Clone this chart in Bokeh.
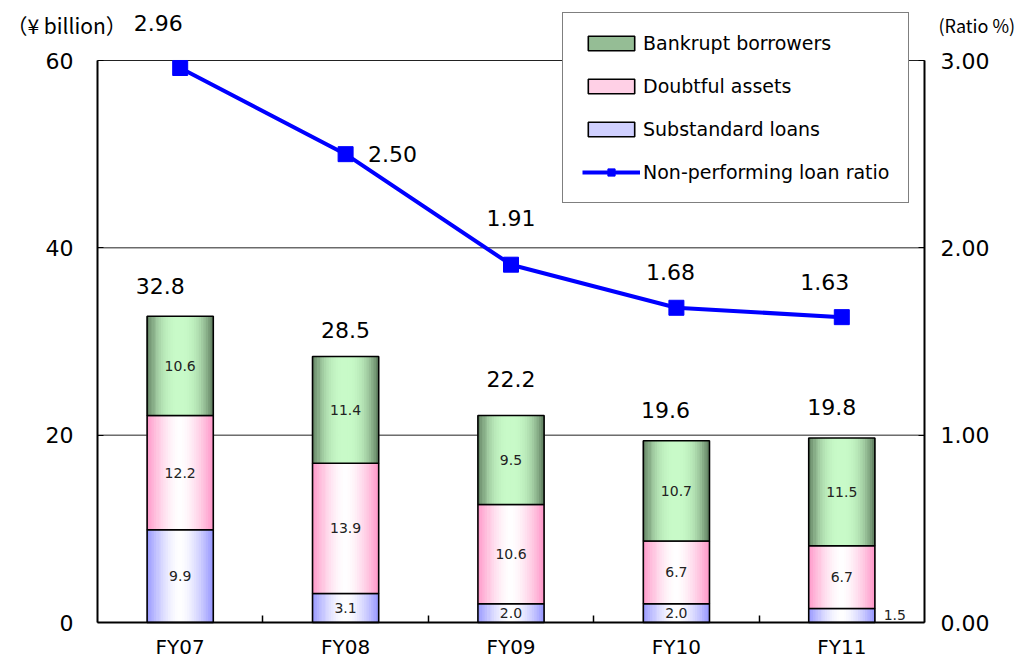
import numpy as np
from bokeh.plotting import figure
from bokeh.models import (Range1d, LinearAxis, FixedTicker, NumeralTickFormatter,
                          ColumnDataSource, LabelSet, Label, Legend, LegendItem)
from bokeh.core.properties import value
from bokeh.embed import file_html
from bokeh.resources import INLINE

# ---- data -------------------------------------------------------------
fiscal_years = ["FY07", "FY08", "FY09", "FY10", "FY11"]
substandard = [9.9, 3.1, 2.0, 2.0, 1.5]
doubtful = [12.2, 13.9, 10.6, 6.7, 6.7]
bankrupt = [10.6, 11.4, 9.5, 10.7, 11.5]
totals = [32.8, 28.5, 22.2, 19.6, 19.8]
npl_ratio = [2.96, 2.50, 1.91, 1.68, 1.63]
left_ticks = [0, 20, 40, 60]
right_ticks = [0, 1, 2, 3]

# label nudges in screen pixels (x right, y up)
total_dx = [-20, 0, 0, -11, -10]
total_dy = [30, 26, 36, 31, 31]
ratio_dx = [-22, 47, 0, -6, -17]
ratio_dy = [45, 0, 47, 36, 35]

# ---- page geometry (pixels) ------------------------------------------
W, H = 1020, 659
AX_LEFT, AX_RIGHT, AX_TOP, AX_BOTTOM = 97, 924, 60, 622
FONT = "DejaVu Sans"
BAR_W = 0.4
N_STRIPS = 28

n = len(fiscal_years)
y_max, r_max = left_ticks[-1], right_ticks[-1]
px_x = (AX_RIGHT - AX_LEFT) / n
px_y = (AX_BOTTOM - AX_TOP) / y_max
px_r = (AX_BOTTOM - AX_TOP) / r_max

# the frame spans the whole page; axes are pinned inside it
x_range = Range1d(-AX_LEFT / px_x, (W - AX_LEFT) / px_x)
y_range = Range1d(-(H - AX_BOTTOM) / px_y, AX_BOTTOM / px_y)
r_range = Range1d(-(H - AX_BOTTOM) / px_r, AX_BOTTOM / px_r)

xc = np.arange(n) + 0.5
sub = np.array(substandard)
dbt = np.array(doubtful)
bkr = np.array(bankrupt)
b0 = np.zeros_like(sub)
b1 = sub
b2 = sub + dbt
b3 = sub + dbt + bkr

p = figure(width=W, height=H, output_backend="svg", toolbar_location=None,
           x_range=x_range, y_range=y_range, x_axis_type=None, y_axis_type=None,
           min_border=0)
p.extra_y_ranges = {"ratio": r_range}
p.outline_line_color = None
p.background_fill_color = "white"
p.border_fill_color = "white"
p.grid.visible = False

# horizontal gridlines across the plotting area
p.segment(x0=0, x1=n, y0=left_ticks[1:], y1=left_ticks[1:], line_color="#222222",
          line_width=1)


def mix(c_edge, c_mid, t):
    return "#%02x%02x%02x" % tuple(int(round(m + (e - m) * t)) for e, m in zip(c_edge, c_mid))


def gradient_bar(bottom, top, c_edge, c_mid, power):
    """Stacked segment filled with a horizontal edge-centre-edge gradient.
    The strip closest to a mid tone is emitted first so that row 0 of the
    source doubles as the legend swatch colour."""
    sw = BAR_W / N_STRIPS
    ts = [abs(2 * (k + 0.5) / N_STRIPS - 1) ** power for k in range(N_STRIPS)]
    k_mid = int(np.argmin([abs(t - 0.45) for t in ts]))
    order = [k_mid] + [k for k in range(N_STRIPS) if k != k_mid]
    xs, bots, tops, cols = [], [], [], []
    for k in order:
        col = mix(c_edge, c_mid, ts[k])
        for i in range(n):
            xs.append(xc[i] - BAR_W / 2 + (k + 0.5) * sw)
            bots.append(bottom[i])
            tops.append(top[i])
            cols.append(col)
    src = ColumnDataSource(dict(x=xs, bottom=bots, top=tops, c=cols))
    fill = p.vbar(x="x", bottom="bottom", top="top", width=sw * 1.35, fill_color="c",
                  line_color=None, source=src)
    edge = p.vbar(x=xc, bottom=bottom, top=top, width=BAR_W, fill_color=None,
                  line_color="black", line_width=1.6)
    return fill, edge


g_sub = gradient_bar(b0, b1, (150, 150, 255), (255, 255, 255), 1.6)
g_dbt = gradient_bar(b1, b2, (255, 150, 200), (255, 255, 255), 1.6)
g_bkr = gradient_bar(b2, b3, (92, 122, 92), (200, 250, 200), 2.6)

# ratio line
line_r = p.line(xc, npl_ratio, y_range_name="ratio", line_color="#0000ff", line_width=4)
mark_r = p.scatter(xc, npl_ratio, y_range_name="ratio", marker="square", size=15,
                   fill_color="#0000ff", line_color="#0000ff")

# axes
ax_x = LinearAxis(fixed_location=0, bounds=(0, n),
                  ticker=FixedTicker(ticks=list(xc), minor_ticks=list(range(1, n))))
ax_x.major_label_overrides = {float(x): lab for x, lab in zip(xc, fiscal_years)}
ax_x.major_tick_line_color = None
ax_x.minor_tick_in = 7
ax_x.minor_tick_out = 0
ax_x.minor_tick_line_color = "black"
ax_x.minor_tick_line_width = 1.5
ax_x.axis_line_width = 2
ax_x.major_label_text_font = FONT
ax_x.major_label_text_font_size = "20px"
ax_x.major_label_text_color = "black"
ax_x.major_label_standoff = 6
p.add_layout(ax_x, "below")

ax_l = LinearAxis(fixed_location=0, bounds=(0, y_max), ticker=FixedTicker(ticks=left_ticks))
ax_l.major_tick_in = 6
ax_l.major_tick_out = 0
ax_l.minor_tick_line_color = None
ax_l.axis_line_width = 2
ax_l.major_label_text_font = FONT
ax_l.major_label_text_font_size = "22px"
ax_l.major_label_text_color = "black"
ax_l.major_label_standoff = 24
p.add_layout(ax_l, "left")

ax_r = LinearAxis(y_range_name="ratio", fixed_location=n, bounds=(0, r_max),
                  ticker=FixedTicker(ticks=right_ticks),
                  formatter=NumeralTickFormatter(format="0.00"))
ax_r.major_tick_in = 6
ax_r.major_tick_out = 0
ax_r.minor_tick_line_color = None
ax_r.axis_line_width = 2
ax_r.major_label_text_font = FONT
ax_r.major_label_text_font_size = "22px"
ax_r.major_label_text_color = "black"
ax_r.major_label_standoff = 16
p.add_layout(ax_r, "right")

# segment value labels
seg_x, seg_y, seg_t, seg_dx = [], [], [], []
for lo, hi, vals in ((b0, b1, substandard), (b1, b2, doubtful), (b2, b3, bankrupt)):
    for i, v in enumerate(vals):
        seg_x.append(xc[i])
        seg_y.append((lo[i] + hi[i]) / 2)
        seg_t.append(f"{v:.1f}")
        seg_dx.append(53 if (v < 2.0) else 0)
seg_src = ColumnDataSource(dict(x=seg_x, y=seg_y, t=seg_t, dx=seg_dx))
p.add_layout(LabelSet(x="x", y="y", text="t", x_offset="dx", source=seg_src,
                      text_align="center", text_baseline="middle",
                      text_font=value(FONT), text_font_size=value("14px"),
                      text_color="#222222"))

# totals above bars
tot_src = ColumnDataSource(dict(x=xc, y=b3, t=[f"{v:.1f}" for v in totals],
                                dx=total_dx, dy=total_dy))
p.add_layout(LabelSet(x="x", y="y", text="t", x_offset="dx", y_offset="dy", source=tot_src,
                      text_align="center", text_baseline="middle",
                      text_font=value(FONT), text_font_size=value("22px"),
                      text_color="black"))

# ratio labels
rat_src = ColumnDataSource(dict(x=xc, y=npl_ratio, t=[f"{v:.2f}" for v in npl_ratio],
                                dx=ratio_dx, dy=ratio_dy))
p.add_layout(LabelSet(x="x", y="y", y_range_name="ratio", text="t", x_offset="dx",
                      y_offset="dy", source=rat_src, text_align="center",
                      text_baseline="middle", text_font=value(FONT),
                      text_font_size=value("22px"), text_color="black"))

# unit captions
p.add_layout(Label(x=0, y=y_max, x_offset=-91, y_offset=36, text="（¥ billion）",
                   text_font="Noto Sans CJK JP", text_font_size="21px",
                   text_baseline="middle", text_align="left", text_color="black"))
p.add_layout(Label(x=n, y=y_max, x_offset=14, y_offset=36, text="(Ratio %)",
                   text_font="Noto Sans CJK JP", text_font_size="18px",
                   text_baseline="middle", text_align="left", text_color="black"))

legend = Legend(items=[
    LegendItem(label="Bankrupt borrowers", renderers=list(g_bkr), index=0),
    LegendItem(label="Doubtful assets", renderers=list(g_dbt), index=0),
    LegendItem(label="Substandard loans", renderers=list(g_sub), index=0),
    LegendItem(label="Non-performing loan ratio", renderers=[line_r, mark_r]),
], location=(562, H - 203), orientation="vertical")
legend.glyph_width = 58
legend.glyph_height = 18
legend.label_text_font = FONT
legend.label_text_font_size = "19px"
legend.label_text_color = "black"
legend.label_standoff = 3
legend.label_height = 20
legend.spacing = 21
legend.padding = 19
legend.margin = 0
legend.border_line_color = "black"
legend.border_line_width = 1.5
legend.background_fill_color = "white"
legend.background_fill_alpha = 1
p.add_layout(legend, "center")

open("out.html", "w").write(file_html(p, INLINE))
